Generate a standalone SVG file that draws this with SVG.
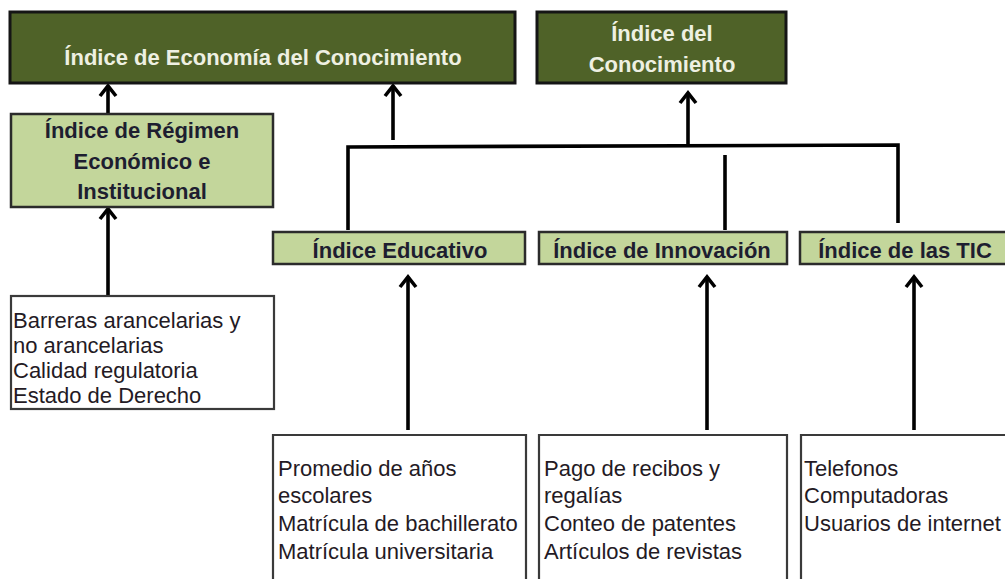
<svg xmlns="http://www.w3.org/2000/svg" width="1005" height="579" viewBox="0 0 1005 579">
<defs>
<style>
.top{fill:#4f6228;stroke:#151515;stroke-width:3}
.mid{fill:#c3d69b;stroke:#2b2b2b;stroke-width:2.5}
.src{fill:#ffffff;stroke:#3a3a3a;stroke-width:2.2}
.tt{font-family:"Liberation Sans",Arial,sans-serif;font-weight:bold;font-size:22px;fill:#eef0e2;text-anchor:middle}
.mt{font-family:"Liberation Sans",Arial,sans-serif;font-weight:bold;font-size:22px;fill:#1e1e30;text-anchor:middle}
.st{font-family:"Liberation Sans",Arial,sans-serif;font-size:22px;fill:#241a24}
.ln{fill:none;stroke:#000;stroke-width:3.6}
.ar{fill:none;stroke:#000;stroke-width:3.6;marker-end:url(#chev)}
</style>
<marker id="chev" markerUnits="userSpaceOnUse" viewBox="-14 -12 16 24" refX="0" refY="0" markerWidth="16" markerHeight="24" orient="auto" overflow="visible">
<path d="M-10,-8 L0,0 L-10,8" fill="none" stroke="#000" stroke-width="3.6" stroke-linejoin="miter"/>
</marker>
</defs>
<rect width="1005" height="579" fill="#ffffff"/>

<g id="connectors">
<line class="ar" x1="108" y1="113" x2="108" y2="86"/>
<line class="ar" x1="393" y1="140" x2="393" y2="86"/>
<line class="ar" x1="688" y1="146" x2="688" y2="93"/>
<polyline class="ln" points="348,230 348,147 898,145 898,223"/>
<line class="ln" x1="725" y1="155" x2="725" y2="230"/>
<line class="ar" x1="108" y1="295" x2="108" y2="209"/>
<line class="ar" x1="408" y1="430" x2="408" y2="277"/>
<line class="ar" x1="707" y1="430" x2="707" y2="277"/>
<line class="ar" x1="914" y1="430" x2="914" y2="277"/>
</g>

<g id="node-iec">
<rect class="top" x="10" y="12" width="505" height="71"/>
<text class="tt" x="263" y="65">Índice de Economía del Conocimiento</text>
</g>

<g id="node-ic">
<rect class="top" x="537" y="12" width="249" height="71"/>
<text class="tt" x="662" y="41">Índice del</text>
<text class="tt" x="662" y="72">Conocimiento</text>
</g>

<g id="node-regimen">
<rect class="mid" x="11" y="114" width="262" height="93"/>
<text class="mt" x="142" y="138">Índice de Régimen</text>
<text class="mt" x="142" y="169">Económico e</text>
<text class="mt" x="142" y="199">Institucional</text>
</g>

<g id="node-educativo">
<rect class="mid" x="273" y="232" width="252" height="32"/>
<text class="mt" x="400" y="258">Índice Educativo</text>
</g>

<g id="node-innovacion">
<rect class="mid" x="539" y="232" width="248" height="32"/>
<text class="mt" x="662" y="258">Índice de Innovación</text>
</g>

<g id="node-tic">
<rect class="mid" x="800" y="232" width="215" height="32"/>
<text class="mt" x="905" y="258">Índice de las TIC</text>
</g>

<g id="src-regimen">
<rect class="src" x="11" y="296" width="263" height="113"/>
<text class="st" x="13" y="328">Barreras arancelarias y</text>
<text class="st" x="13" y="353">no arancelarias</text>
<text class="st" x="13" y="378">Calidad regulatoria</text>
<text class="st" x="13" y="403">Estado de Derecho</text>
</g>

<g id="src-educativo">
<path class="src" d="M273,590 L273,435 L526,435 L526,590"/>
<text class="st" x="278" y="476">Promedio de años</text>
<text class="st" x="278" y="503">escolares</text>
<text class="st" x="278" y="531">Matrícula de bachillerato</text>
<text class="st" x="278" y="559">Matrícula universitaria</text>
</g>

<g id="src-innovacion">
<path class="src" d="M539,590 L539,435 L787,435 L787,590"/>
<text class="st" x="544" y="476">Pago de recibos y</text>
<text class="st" x="544" y="503">regalías</text>
<text class="st" x="544" y="531">Conteo de patentes</text>
<text class="st" x="544" y="559">Artículos de revistas</text>
</g>

<g id="src-tic">
<path class="src" d="M801,590 L801,435 L1015,435"/>
<text class="st" x="804" y="476">Telefonos</text>
<text class="st" x="804" y="503">Computadoras</text>
<text class="st" x="804" y="531">Usuarios de internet</text>
</g>
</svg>
